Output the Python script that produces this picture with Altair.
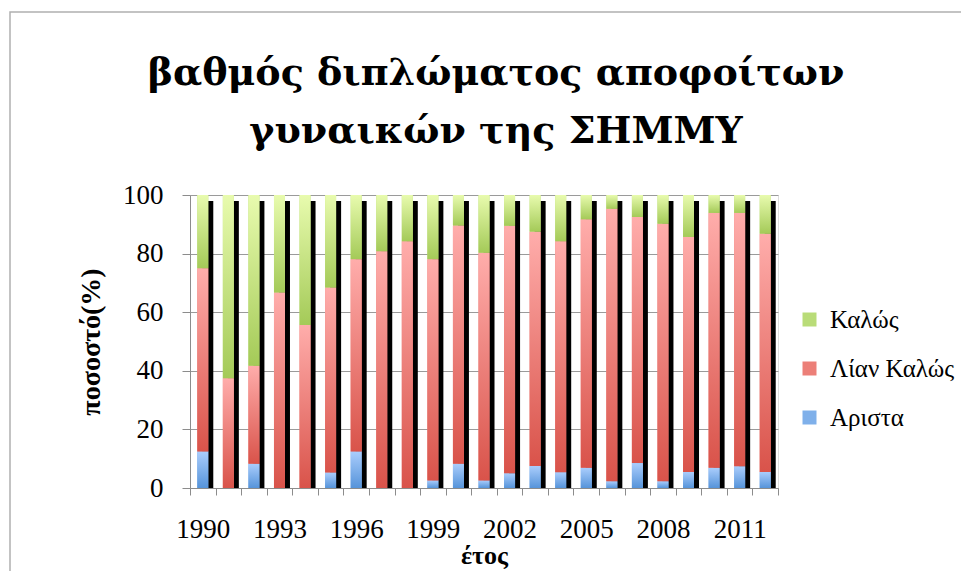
import altair as alt
import pandas as pd

years = [str(y) for y in range(1990, 2013)]
arista = [12.5, 0, 8.3, 0, 0, 5.3, 12.5, 0, 0, 2.6, 8.3, 2.6, 5.0, 7.5, 5.4, 6.9, 2.3, 8.5, 2.3, 5.5, 6.9, 7.4, 5.5]
lian_kalos = [62.5, 37.5, 33.4, 66.7, 55.6, 63.1, 65.6, 80.8, 84.2, 75.5, 81.3, 77.7, 84.5, 80.0, 78.8, 84.8, 93.0, 84.0, 87.9, 80.2, 87.0, 86.5, 81.3]
kalos = [25.0, 62.5, 58.3, 33.3, 44.4, 31.6, 21.9, 19.2, 15.8, 21.9, 10.4, 19.7, 10.5, 12.5, 15.8, 8.3, 4.7, 7.5, 9.8, 14.3, 6.1, 6.1, 13.2]

series_names = ["Αριστα", "Λίαν Καλώς", "Καλώς"]
legend_order = ["Καλώς", "Λίαν Καλώς", "Αριστα"]
solid_colors = ["#b9dc78", "#ec7f78", "#7fb0ea"]

rows = []
for i, y in enumerate(years):
    for k, (name, vals) in enumerate(zip(series_names, [arista, lian_kalos, kalos])):
        rows.append({"year": y, "series": name, "value": vals[i], "order": k, "total": 100})
df = pd.DataFrame(rows)

FONT = "Liberation Serif"
TITLE_FONT = "DejaVu Serif"

def grad(top, bottom):
    return alt.LinearGradient(
        gradient="linear",
        stops=[alt.GradientStop(color=top, offset=0), alt.GradientStop(color=bottom, offset=1)],
        x1=0, x2=0, y1=0, y2=1,
    )

gradients = {
    "Καλώς": grad("#e8fbae", "#a4ca58"),
    "Λίαν Καλώς": grad("#ffadab", "#d9534a"),
    "Αριστα": grad("#aacdfc", "#5694da"),
}

x_enc = alt.X(
    "year:O",
    title="έτος",
    scale=alt.Scale(paddingInner=0, paddingOuter=0),
    axis=alt.Axis(
        labelAngle=0,
        tickBand="extent",
        tickSize=7,
        labelPadding=21,
        labelFont=FONT,
        labelFontSize=27,
        labelColor="#000",
        labelExpr="(toNumber(datum.value) - 1990) % 3 == 0 ? datum.value : ''",
        titleFont=FONT,
        titleFontSize=26,
        titleFontWeight="bold",
        titleColor="#000",
        titlePadding=0,
        domainColor="#8c8c8c",
        tickColor="#8c8c8c",
        grid=False,
    ),
)

y_axis = alt.Axis(
    values=[0, 20, 40, 60, 80, 100],
    tickSize=8,
    labelPadding=19,
    labelFont=FONT,
    labelFontSize=27,
    labelColor="#000",
    titleFont=FONT,
    titleFontSize=28,
    titleFontWeight="bold",
    titleColor="#000",
    titlePadding=17,
    domainColor="#8c8c8c",
    tickColor="#8c8c8c",
    gridColor="#9a9a9a",
    grid=True,
)

base = alt.Chart(df)

shadow = base.transform_filter(alt.datum.order == 0).mark_bar(
    size=11, color="#000000", xOffset=5, yOffset=6, clip=True
).encode(
    x=x_enc,
    y=alt.Y("total:Q", scale=alt.Scale(domain=[0, 100], nice=False), axis=y_axis, title="ποσοστό(%)"),
)

stacked = base.transform_stack(
    stack="value", as_=["v0", "v1"], groupby=["year"], sort=[alt.SortField("order")]
)

legend_layer = stacked.mark_bar(size=11).encode(
    x=alt.X("year:O"),
    y=alt.Y("v0:Q"),
    y2="v1:Q",
    color=alt.Color(
        "series:N",
        scale=alt.Scale(domain=legend_order, range=solid_colors),
        legend=alt.Legend(
            title=None,
            orient="none",
            legendX=607,
            legendY=112,
            symbolType="square",
            symbolSize=196,
            symbolStrokeWidth=0,
            labelFont=FONT,
            labelFontSize=25,
            labelColor="#000",
            rowPadding=23,
            labelOffset=8,
            labelLimit=300,
        ),
    ),
)

grad_layers = []
for name in series_names:
    grad_layers.append(
        stacked.transform_filter(alt.datum.series == name)
        .mark_bar(size=11, fill=gradients[name])
        .encode(x=alt.X("year:O"), y=alt.Y("v0:Q"), y2="v1:Q")
    )

frame = alt.Chart(pd.DataFrame({"a": [0]})).mark_rect(
    fill=None, stroke="#b0b0b0", strokeWidth=1.5, clip=False
).encode(
    x=alt.value(-180), x2=alt.value(900), y=alt.value(-183), y2=alt.value(500)
)

chart = alt.layer(frame, shadow, legend_layer, *grad_layers).properties(
    width=588,
    height=293,
    autosize=alt.AutoSizeParams(type="none"),
    padding={"left": 182, "top": 187, "right": 183, "bottom": 83},
    title=alt.Title(
        text=["βαθμός διπλώματος αποφοίτων", "γυναικών της ΣΗΜΜΥ"],
        font=TITLE_FONT,
        fontSize=38,
        fontWeight="bold",
        color="#000",
        anchor="middle",
        lineHeight=58,
        offset=-140,
        dx=12,
    ),
).configure_view(stroke=None).configure(background="white")

chart.save("out.html", embed_options={"renderer": "svg", "actions": False})
